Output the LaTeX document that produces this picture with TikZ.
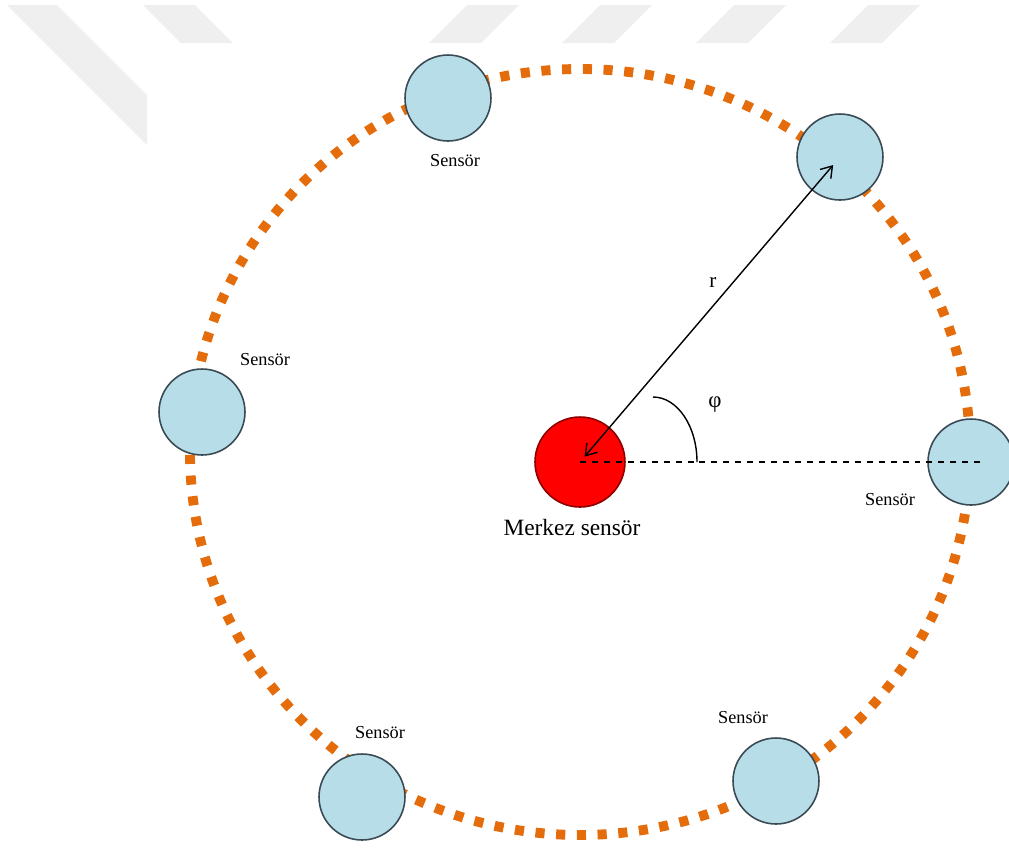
\documentclass[tikz,border=0pt]{standalone}
\usepackage{fontspec}
\setmainfont{Liberation Serif}
\usetikzlibrary{arrows.meta,positioning}
\usepackage{xcolor}
\definecolor{ringorange}{RGB}{228,108,10}
\definecolor{sensorblue}{RGB}{183,222,232}
\definecolor{sensorline}{RGB}{58,74,84}
\definecolor{hubline}{RGB}{140,0,0}
\definecolor{wmgray}{RGB}{239,239,239}

\begin{document}
\begin{tikzpicture}[
				x=0.02cm,y=-0.02cm,
				sensor/.style={draw=sensorline,circle,fill=sensorblue,line width=0.9pt,minimum size=1.72cm,inner sep=0pt},
				hub/.style={draw=hubline,circle,fill=red,line width=0.9pt,minimum size=1.8cm,inner sep=0pt},
				lbl/.style={font=\fontsize{10.4}{12}\selectfont,inner sep=0pt},
				ring/.style={ringorange,line width=5.6pt,dash pattern=on 5.2pt off 6.6pt},
				tip/.style={{Straight Barb[length=6pt,width=8pt]}-{Straight Barb[length=6pt,width=8pt]}}
				]
				\useasboundingbox (0,0) rectangle (1009,850);
				
				% filigrana
				\fill[wmgray] (7,5) -- (57,5) -- (147,95) -- (147,145) -- cycle;
				\fill[wmgray] (143,5) -- (195,5) -- (233,43) -- (181,43) -- cycle;
				\foreach \wx in {467,600,734,868}
				\fill[wmgray] (\wx,5) -- ++(52,0) -- ++(-38,38) -- ++(-52,0) -- cycle;
				
				% anello
				\draw[ring] (580,452) ellipse [x radius=390,y radius=383];
				
				% sensori sull'anello
				\node[sensor] (s1) at (448,98) {};
				\node[sensor] (s2) at (840,157) {};
				\node[sensor] (s3) at (202,412) {};
				\node[sensor] (s4) at (971,462) {};
				\node[sensor] (s5) at (362,797) {};
				\node[sensor] (s6) at (776,781) {};
				
				% sensore centrale
				\node[hub] (hub) at (580,462) {};
				\node[font=\fontsize{13.3}{16}\selectfont,inner sep=0pt,below=0.23cm of hub,xshift=-0.16cm] (hublbl) {Merkez sensör};
				
				% etichette
				\node[lbl,below=0.25cm of s1,xshift=0.14cm] (l1) {Sensör};
				\node[lbl] (l3) at (265,360) {Sensör};
				\node[lbl] (l4) at (890,500) {Sensör};
				\node[lbl] (l5) at (380,733) {Sensör};
				\node[lbl] (l6) at (743,718) {Sensör};
				
				% raggio e angolo
				\coordinate (dashend) at (985,462);
				\draw[line width=0.8pt,dash pattern=on 3.4pt off 3.4pt] (hub.center) -- (dashend);
				\draw[tip,line width=0.8pt,shorten <=4pt,shorten >=6pt] (hub.center) -- (s2.center);
				\draw[line width=0.8pt] (653,397) arc[start angle=-90,end angle=0,x radius=44,y radius=65];
				\node[font=\fontsize{12}{14}\selectfont,inner sep=0pt] (rlbl) at (713,283) {r};
				\node[font=\fontsize{13}{15}\selectfont,inner sep=0pt] (philbl) at (715,405) {φ};
				
			\end{tikzpicture}
\end{document}
